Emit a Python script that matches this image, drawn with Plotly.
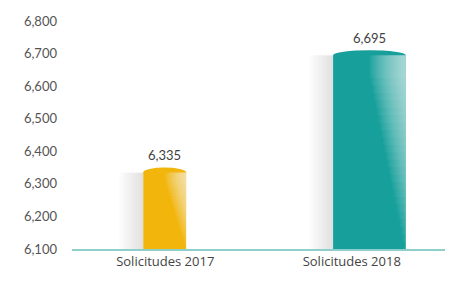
import plotly.graph_objects as go

categories = ["Solicitudes 2017", "Solicitudes 2018"]
values = [6335, 6695]
labels = ["6,335", "6,695"]
colors = ["#F2B50C", "#17A09B"]
tick_vals = [6100, 6200, 6300, 6400, 6500, 6600, 6700, 6800]

base_val = 6100
widths = [0.23, 0.39]
offsets = [-0.118, -0.10]
heights = [v - base_val for v in values]

fig = go.Figure()

# soft shadow to the left of each cylinder
ns = 10
for k in range(ns):
    sw = 0.13 * (ns - k) / ns
    fig.add_trace(go.Bar(
        x=categories, y=heights, base=base_val,
        width=[sw] * 2,
        offset=[o - sw for o in offsets],
        marker=dict(color="rgba(0,0,0,0.012)", line=dict(width=0)),
        hoverinfo="skip", showlegend=False,
    ))

# main bars
fig.add_trace(go.Bar(
    x=categories, y=heights, base=base_val,
    width=widths, offset=offsets,
    marker=dict(color=colors, line=dict(width=0)),
    showlegend=False,
))

# highlight on right side (wider near the top, fading to white)
n = 24
for k in range(n):
    fx = 0.5 * (k + 1) / n
    fh = 1.0 - 0.92 * (k / n)
    fig.add_trace(go.Bar(
        x=categories, y=[h * fh for h in heights],
        base=[v - h * fh for v, h in zip(values, heights)],
        width=[w * fx for w in widths],
        offset=[o + w * (1 - fx) for o, w in zip(offsets, widths)],
        marker=dict(color="rgba(255,255,255,0.045)", line=dict(width=0)),
        hoverinfo="skip", showlegend=False,
    ))

# cylinder top ellipses and value labels
for i, (v, c, t) in enumerate(zip(values, colors, labels)):
    fig.add_shape(
        type="circle", xref="x", yref="y",
        x0=i + offsets[i], x1=i + offsets[i] + widths[i],
        ysizemode="pixel", yanchor=v, y0=-5, y1=5,
        fillcolor=c, line=dict(width=0), layer="below",
    )
    fig.add_annotation(
        x=i + offsets[i] + widths[i] / 2, y=v, xref="x", yref="y",
        text=t, showarrow=False, yshift=17,
        font=dict(family="Lato", size=13, color="#3F3F3F"),
    )

fig.update_layout(
    width=450, height=274,
    margin=dict(l=64, r=13, t=13, b=33),
    barmode="overlay",
    paper_bgcolor="white", plot_bgcolor="white",
    font=dict(family="Lato", color="#555555", size=13),
    xaxis=dict(
        type="category", range=[-0.5, 1.5], automargin=False,
        showgrid=False, showline=True, linecolor="#8FCFCB", linewidth=1.5,
        ticks="", tickfont=dict(family="Open Sans", size=13, color="#444444"),
    ),
    yaxis=dict(
        range=[base_val, 6800], tickvals=tick_vals, tickformat=",",
        showgrid=False, zeroline=False, showline=False, automargin=False,
        ticks="", ticklabelstandoff=14,
        tickfont=dict(size=13, color="#555555"),
    ),
)

fig.write_html("out.html")
